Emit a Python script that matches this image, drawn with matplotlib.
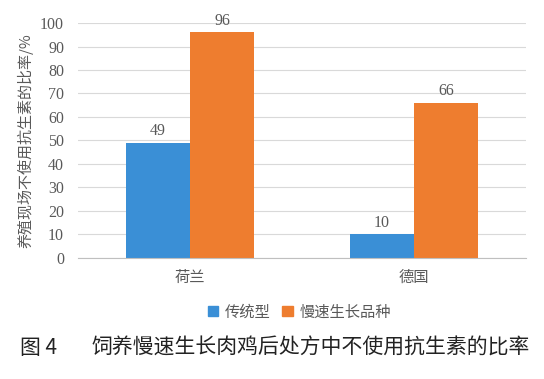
import numpy as np
import matplotlib.pyplot as plt
from matplotlib.patches import Patch

categories = ['荷兰', '德国']
traditional = [49, 10]
slow_growth = [96, 66]
series_names = ['传统型', '慢速生长品种']
yticks = [0, 10, 20, 30, 40, 50, 60, 70, 80, 90, 100]

plt.rcParams['font.family'] = ['Noto Sans CJK SC', 'DejaVu Sans']

blue = '#3A8FD6'
orange = '#EE7D2F'
grey = '#595959'

fig = plt.figure(figsize=(5.44, 3.79), dpi=100)
ax = fig.add_axes([0.1434, 0.3193, 0.8236, 0.62])

x = np.arange(len(categories))
w = 0.285
b1 = ax.bar(x - w / 2, traditional, w, color=blue)
b2 = ax.bar(x + w / 2, slow_growth, w, color=orange)

for bars, vals in ((b1, traditional), (b2, slow_growth)):
    for b, v in zip(bars, vals):
        ax.text(b.get_x() + b.get_width() / 2, v + 1.5, str(v), ha='center', va='bottom',
                fontsize=11.5, color=grey, family='Liberation Serif')

ax.set_xlim(-0.5, 1.5)
ax.set_ylim(0, 100)
ax.set_yticks(yticks)
ax.set_yticklabels([str(t) for t in yticks], family='Liberation Serif', fontsize=11.5, color=grey)
ax.set_xticks(x)
ax.set_xticklabels(categories, fontsize=11, color=grey)
ax.tick_params(axis='y', length=0, pad=10)
ax.tick_params(axis='x', length=0, pad=8)
ax.yaxis.grid(True, color='#D9D9D9', lw=0.8)
ax.set_axisbelow(True)
for s in ['top', 'right', 'left']:
    ax.spines[s].set_visible(False)
ax.spines['bottom'].set_color('#BFBFBF')

ax.set_ylabel('养殖现场不使用抗生素的比率/%', fontsize=10.8, color=grey, labelpad=5)

handles = [Patch(color=blue), Patch(color=orange)]
fig.legend(handles, series_names, loc='center', bbox_to_anchor=(0.55, 0.177), ncol=2,
           frameon=False, fontsize=11, handlelength=0.7, handleheight=0.7,
           handletextpad=0.4, columnspacing=0.8, labelcolor=grey)

fig.text(0.037, 0.083, '图 4', fontsize=15, color='#222222', va='center', fontweight='medium')
fig.text(0.168, 0.083, '饲养慢速生长肉鸡后处方中不使用抗生素的比率', fontsize=15,
         color='#222222', va='center', fontweight='medium')

fig.savefig('out.png', dpi=100)
